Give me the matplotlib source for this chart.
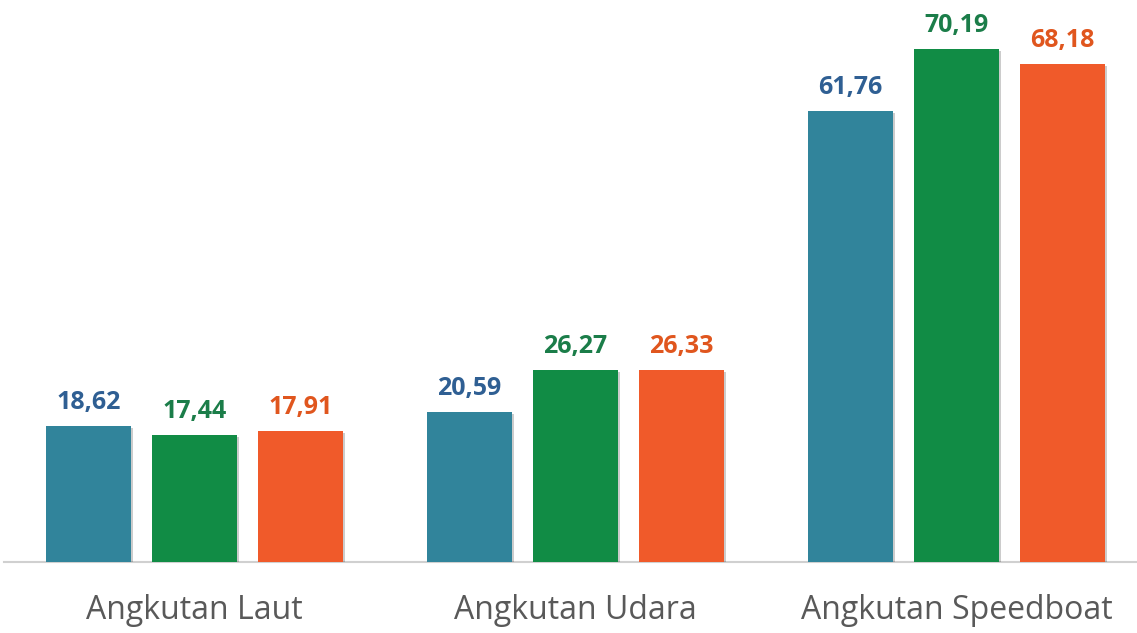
import matplotlib
matplotlib.use("Agg")
import matplotlib.pyplot as plt
import matplotlib.patheffects as pe
import numpy as np

categories = ["Angkutan Laut", "Angkutan Udara", "Angkutan Speedboat"]
series_a = [18.62, 20.59, 61.76]
series_b = [17.44, 26.27, 70.19]
series_c = [17.91, 26.33, 68.18]

bar_colors = ["#31849B", "#118C45", "#F05A2A"]
label_colors = ["#2F5F93", "#1B7D49", "#E0561E"]

fig = plt.figure(figsize=(11.37, 6.33), dpi=100)
ax = fig.add_axes([4 / 1137, 71 / 633, 1133 / 1137, 562 / 633])

x = np.arange(len(categories))
width = 0.224
step = 0.278
shadow = [pe.SimplePatchShadow(offset=(1.5, -1.5), shadow_rgbFace="#000000", alpha=0.2), pe.Normal()]

for i, (vals, bc, lc) in enumerate(zip([series_a, series_b, series_c], bar_colors, label_colors)):
    bars = ax.bar(x + (i - 1) * step, vals, width, color=bc, zorder=3)
    for b in bars:
        b.set_path_effects(shadow)
    for xi, v in zip(x + (i - 1) * step, vals):
        ax.text(xi, v + 1.5, f"{v:.2f}".replace(".", ","), ha="center", va="bottom",
                color=lc, fontsize=18, fontweight="bold", family="Open Sans")

ax.set_xlim(-0.5, -0.5 + 1133 / 381)
ax.set_ylim(0, 76.9)
for s in ["top", "right", "left"]:
    ax.spines[s].set_visible(False)
ax.spines["bottom"].set_color("#D0D0D0")
ax.spines["bottom"].set_linewidth(1.5)
ax.set_yticks([])
ax.set_xticks(x)
ax.set_xticklabels(categories, fontsize=23, color="#595959", family="Open Sans")
ax.tick_params(axis="x", length=0, pad=23)

fig.savefig("out.png", dpi=100)
